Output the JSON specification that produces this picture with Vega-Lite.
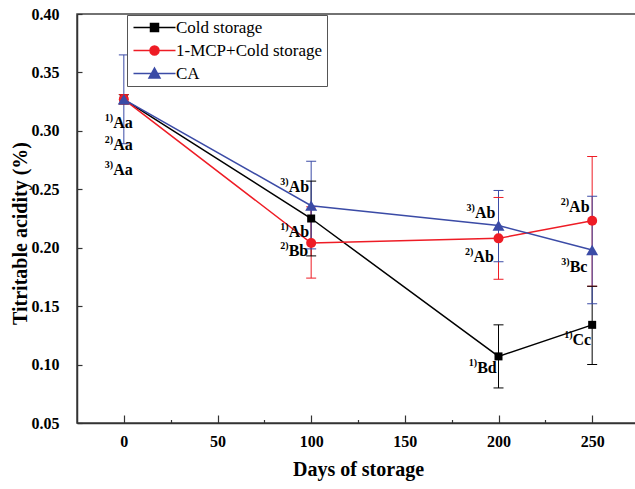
{
  "$schema": "https://vega.github.io/schema/vega-lite/v6.json",
  "width": 562,
  "height": 409,
  "autosize": "none",
  "padding": {"left": 77, "top": 14, "right": 0, "bottom": 66},
  "background": "white",
  "config": {
    "view": {"stroke": "#444", "strokeWidth": 1.5},
    "font": "Liberation Serif",
    "axis": {"grid": false, "domainColor": "#333", "domainWidth": 1.5, "tickColor": "#333", "tickWidth": 1.2,
      "labelFont": "Liberation Serif", "labelFontWeight": "bold", "labelFontSize": 16, "labelColor": "black",
      "titleFont": "Liberation Serif", "titleFontWeight": "bold", "titleFontSize": 20, "titleColor": "black"},
    "legend": {"labelFont": "Liberation Serif", "labelFontSize": 17, "labelColor": "black"}
  },
  "datasets": {
    "ta": [
      {"treatment": "Cold storage", "day": 0, "ta": 0.327, "lo": 0.323, "hi": 0.331},
      {"treatment": "Cold storage", "day": 100, "ta": 0.225, "lo": 0.193, "hi": 0.257},
      {"treatment": "Cold storage", "day": 200, "ta": 0.107, "lo": 0.080, "hi": 0.134},
      {"treatment": "Cold storage", "day": 250, "ta": 0.134, "lo": 0.100, "hi": 0.167},
      {"treatment": "1-MCP+Cold storage", "day": 0, "ta": 0.327, "lo": 0.323, "hi": 0.331},
      {"treatment": "1-MCP+Cold storage", "day": 100, "ta": 0.204, "lo": 0.174, "hi": 0.235},
      {"treatment": "1-MCP+Cold storage", "day": 200, "ta": 0.208, "lo": 0.173, "hi": 0.243},
      {"treatment": "1-MCP+Cold storage", "day": 250, "ta": 0.223, "lo": 0.167, "hi": 0.278},
      {"treatment": "CA", "day": 0, "ta": 0.327, "lo": 0.289, "hi": 0.365},
      {"treatment": "CA", "day": 100, "ta": 0.236, "lo": 0.199, "hi": 0.274},
      {"treatment": "CA", "day": 200, "ta": 0.219, "lo": 0.188, "hi": 0.249},
      {"treatment": "CA", "day": 250, "ta": 0.198, "lo": 0.152, "hi": 0.244}
    ],
    "labels": [
      {"day": -5.7, "ta": 0.307, "sup": "1)", "main": "Aa"},
      {"day": -5.7, "ta": 0.288, "sup": "2)", "main": "Aa"},
      {"day": -5.7, "ta": 0.2665, "sup": "3)", "main": "Aa"},
      {"day": 88, "ta": 0.252, "sup": "3)", "main": "Ab"},
      {"day": 88, "ta": 0.2137, "sup": "1)", "main": "Ab"},
      {"day": 88, "ta": 0.1974, "sup": "2)", "main": "Bb"},
      {"day": 187.4, "ta": 0.2294, "sup": "3)", "main": "Ab"},
      {"day": 186.6, "ta": 0.1923, "sup": "2)", "main": "Ab"},
      {"day": 188.6, "ta": 0.0968, "sup": "1)", "main": "Bd"},
      {"day": 237.7, "ta": 0.2351, "sup": "2)", "main": "Ab"},
      {"day": 238, "ta": 0.1838, "sup": "3)", "main": "Bc"},
      {"day": 239.5, "ta": 0.121, "sup": "1)", "main": "Cc"}
    ]
  },
  "encoding": {
    "x": {
      "field": "day", "type": "quantitative",
      "scale": {"domain": [-25, 275], "nice": false, "zero": false},
      "axis": {
        "title": "Days of storage",
        "values": [0, 25, 50, 75, 100, 125, 150, 175, 200, 225, 250],
        "labelExpr": "datum.value % 50 == 0 ? datum.label : ''",
        "tickSize": {"condition": {"test": "datum.value % 50 == 0", "value": -8}, "value": -3.5},
        "labelPadding": 18,
        "titleY": 46, "titleBaseline": "middle"
      }
    }
  },
  "layer": [
    {
      "data": {"name": "ta"},
      "mark": {"type": "rule", "strokeWidth": 1},
      "encoding": {
        "y": {"field": "lo", "type": "quantitative"},
        "y2": {"field": "hi"},
        "color": {"field": "treatment", "type": "nominal"}
      }
    },
    {
      "data": {"name": "ta"},
      "mark": {"type": "tick", "orient": "horizontal", "thickness": 1, "size": 10, "opacity": 1},
      "encoding": {
        "y": {"field": "lo", "type": "quantitative"},
        "color": {"field": "treatment", "type": "nominal"}
      }
    },
    {
      "data": {"name": "ta"},
      "mark": {"type": "tick", "orient": "horizontal", "thickness": 1, "size": 10, "opacity": 1},
      "encoding": {
        "y": {"field": "hi", "type": "quantitative"},
        "color": {"field": "treatment", "type": "nominal"}
      }
    },
    {
      "data": {"name": "ta"},
      "mark": {"type": "line", "strokeWidth": 1.5},
      "encoding": {
        "y": {
          "field": "ta", "type": "quantitative",
          "scale": {"domain": [0.05, 0.4], "nice": false, "zero": false},
          "axis": {
            "title": "Titritable acidity (%)",
            "values": [0.05, 0.075, 0.1, 0.125, 0.15, 0.175, 0.2, 0.225, 0.25, 0.275, 0.3, 0.325, 0.35, 0.375, 0.4],
            "labelExpr": "round(datum.value*1000) % 50 == 0 ? format(datum.value, '.2f') : ''",
            "tickSize": {"condition": {"test": "round(datum.value*1000) % 50 == 0", "value": -5}, "value": -4},
            "labelPadding": 23,
            "titleX": -57, "titleY": 219, "titleAlign": "center", "titleBaseline": "middle", "titleAngle": 270
          }
        },
        "color": {
          "field": "treatment", "type": "nominal",
          "scale": {"domain": ["Cold storage", "1-MCP+Cold storage", "CA"], "range": ["#000000", "#ee1c25", "#3b4ba6"]},
          "legend": {
            "title": null, "orient": "none", "legendX": 50, "legendY": 1,
            "strokeColor": "#555", "fillColor": "white", "padding": 4,
            "labelFont": "Liberation Serif", "labelFontSize": 17, "labelColor": "black", "labelOffset": 13, "labelLimit": 300,
            "symbolSize": 100, "symbolOffset": 15, "symbolStrokeWidth": 1.5, "symbolOpacity": 1, "rowPadding": 5,
            "encode": {
              "symbols": {
                "update": {
                  "shape": {"signal": "datum.value == 'Cold storage' ? 'M-4.2,0H4.2M-0.8,-0.8H0.8V0.8H-0.8Z' : datum.value == 'CA' ? 'M-4.2,0H4.2M0,-1.1L1.1,0.9L-1.1,0.9Z' : 'M-4.2,0H4.2M0.9,0A0.9,0.9 0 1,1 -0.9,0A0.9,0.9 0 1,1 0.9,0Z'"},
                  "size": {"value": 100},
                  "fill": {"signal": "scale('color', datum.value)"},
                  "stroke": {"signal": "scale('color', datum.value)"},
                  "strokeWidth": {"value": 1.5}
                }
              }
            }
          }
        }
      }
    },
    {
      "data": {"name": "ta"},
      "transform": [{"filter": "datum.treatment == 'Cold storage'"}],
      "mark": {"type": "point", "filled": true, "opacity": 1, "shape": "square", "size": 64},
      "encoding": {
        "y": {"field": "ta", "type": "quantitative"},
        "color": {"field": "treatment", "type": "nominal"}
      }
    },
    {
      "data": {"name": "ta"},
      "transform": [{"filter": "datum.treatment == '1-MCP+Cold storage'"}],
      "mark": {"type": "point", "filled": true, "opacity": 1, "shape": "circle", "size": 100},
      "encoding": {
        "y": {"field": "ta", "type": "quantitative"},
        "color": {"field": "treatment", "type": "nominal"}
      }
    },
    {
      "data": {"name": "ta"},
      "transform": [{"filter": "datum.treatment == 'CA'"}],
      "mark": {"type": "point", "filled": true, "opacity": 1, "shape": "triangle-up", "size": 144},
      "encoding": {
        "y": {"field": "ta", "type": "quantitative"},
        "color": {"field": "treatment", "type": "nominal"}
      }
    },
    {
      "data": {"name": "labels"},
      "mark": {"type": "text", "font": "Liberation Serif", "fontWeight": "bold", "fontSize": 16, "align": "left", "baseline": "middle", "color": "black"},
      "encoding": {
        "y": {"field": "ta", "type": "quantitative"},
        "text": {"field": "main", "type": "nominal"}
      }
    },
    {
      "data": {"name": "labels"},
      "mark": {"type": "text", "font": "Liberation Serif", "fontWeight": "bold", "fontSize": 10, "align": "right", "baseline": "middle", "dy": -5, "color": "black"},
      "encoding": {
        "y": {"field": "ta", "type": "quantitative"},
        "text": {"field": "sup", "type": "nominal"}
      }
    }
  ]
}
